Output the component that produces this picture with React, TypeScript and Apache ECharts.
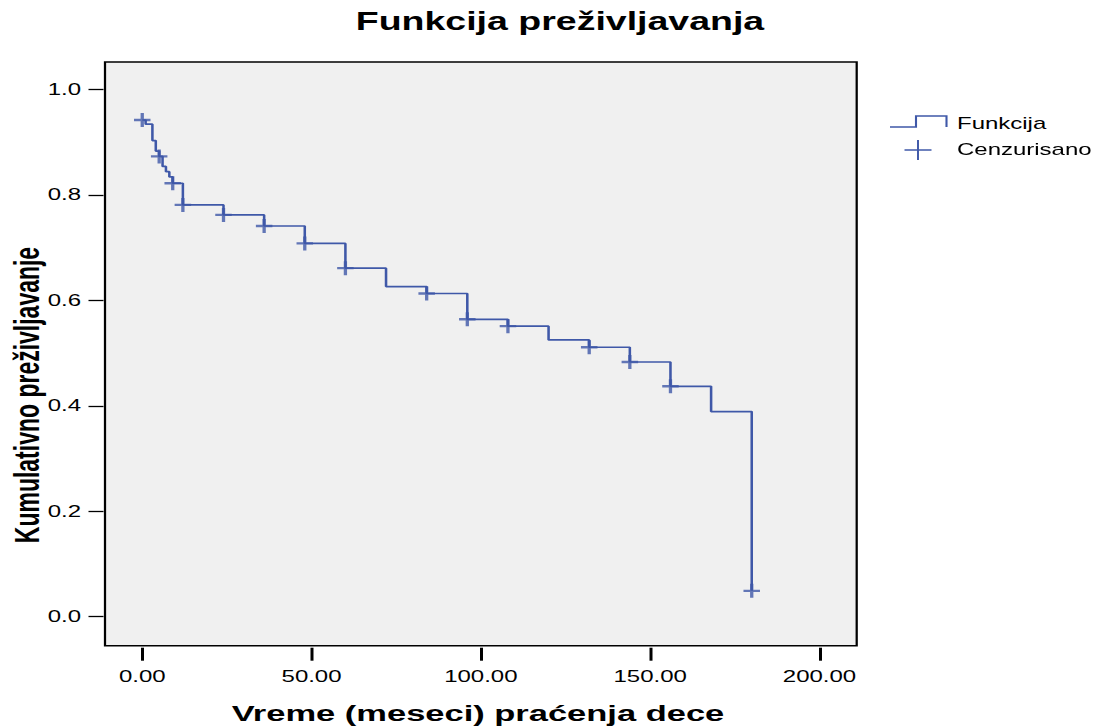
import React, { useEffect, useRef } from "react";
import * as echarts from "echarts";

// The reference picture is horizontally stretched; we draw in a narrower
// base space and stretch the whole SVG with CSS.
const STRETCH = 1.5;
const W = 1099;
const H = 727;
const BW = W / STRETCH;

const eventTimes = [0, 1, 3, 4, 5, 6, 7, 8, 9, 12, 24, 36, 48, 60, 72, 84, 96, 108, 120, 132, 144, 156, 168, 180];
const survival = [0.942, 0.934, 0.903, 0.883, 0.873, 0.854, 0.844, 0.834, 0.822, 0.781, 0.762, 0.741, 0.708, 0.661, 0.626, 0.613, 0.564, 0.551, 0.525, 0.511, 0.483, 0.437, 0.389, 0.049];
const censorTimes = [0, 5, 9, 12, 24, 36, 48, 60, 84, 96, 108, 132, 144, 156, 180];
const censorSurvival = [0.942, 0.873, 0.822, 0.781, 0.762, 0.741, 0.708, 0.661, 0.613, 0.564, 0.551, 0.511, 0.483, 0.437, 0.049];
const xTicks = [0, 50, 100, 150, 200];
const yTicks = [0, 0.2, 0.4, 0.6, 0.8, 1.0];
const titleText = "Funkcija preživljavanja";
const xName = "Vreme (meseci) praćenja dece";
const yName = "Kumulativno preživljavanje";
const legendNames = ["Funkcija", "Cenzurisano"];

const BLUE = "#3f58a8";
const FONT = "'Liberation Sans', Arial, Helvetica, sans-serif";
const bx = (x: number) => x / STRETCH;

export default function App() {
  const ref = useRef<HTMLDivElement>(null);
  useEffect(() => {
    document.body.style.margin = "0";
    const chart = echarts.init(ref.current!, null, { renderer: "svg", width: BW, height: H });
    const lineData = eventTimes.map((t, i) => [t, survival[i]]);
    const censorData = censorTimes.map((t, i) => [t, censorSurvival[i]]);
    chart.setOption({
      animation: false,
      backgroundColor: "#ffffff",
      grid: {
        left: bx(105),
        right: BW - bx(856.7),
        top: 62,
        bottom: H - 645.7,
        show: true,
        backgroundColor: "#f0f0f0",
        borderColor: "#000000",
        borderWidth: 1.5,
      },
      xAxis: {
        type: "value",
        min: -11,
        max: 211,
        offset: 2,
        axisLine: { show: false, onZero: false },
        splitLine: { show: false },
        axisTick: { show: true, inside: false, length: 13, lineStyle: { color: "#000", width: 2 }, customValues: xTicks },
        axisLabel: {
          customValues: xTicks,
          formatter: (v: number) => v.toFixed(2),
          color: "#000",
          fontSize: 16,
          fontFamily: FONT,
          margin: 21,
        },
      },
      yAxis: {
        type: "value",
        min: -0.055,
        max: 1.052,
        offset: 1,
        axisLine: { show: false, onZero: false },
        splitLine: { show: false },
        axisTick: { show: true, inside: false, length: 10, lineStyle: { color: "#000", width: 1.3 }, customValues: yTicks },
        axisLabel: {
          customValues: yTicks,
          formatter: (v: number) => v.toFixed(1),
          color: "#000",
          fontSize: 16,
          fontFamily: FONT,
          margin: 15,
        },
      },
      series: [
        {
          name: legendNames[0],
          type: "line",
          step: "end",
          data: lineData,
          showSymbol: false,
          symbol: "none",
          lineStyle: { color: BLUE, width: 1.7 },
          z: 3,
        },
        {
          name: legendNames[1],
          type: "scatter",
          data: censorData,
          symbol: "path://M4.4,0H6.6V14H4.4Z M0,5.8H11V8.2H0Z",
          symbolSize: [11, 14],
          itemStyle: { color: BLUE },
          z: 4,
        },
      ],
      graphic: [
        {
          type: "text",
          x: bx(560),
          y: 21,
          style: { text: titleText, fontSize: 25, fontWeight: "bold", fontFamily: FONT, fill: "#000", align: "center", verticalAlign: "middle" },
        },
        {
          type: "text",
          x: bx(478),
          y: 713,
          style: { text: xName, fontSize: 23, fontWeight: "bold", fontFamily: FONT, fill: "#000", align: "center", verticalAlign: "middle" },
        },
        {
          type: "text",
          x: bx(27),
          y: 395,
          rotation: Math.PI / 2,
          style: { text: yName, fontSize: 23, fontWeight: "bold", fontFamily: FONT, fill: "#000", align: "center", verticalAlign: "middle" },
        },
        {
          type: "polyline",
          shape: { points: [[bx(890), 127], [bx(916), 127], [bx(916), 116], [bx(946.5), 116], [bx(946.5), 127]] },
          style: { stroke: BLUE, lineWidth: 1.4, fill: "none" },
        },
        {
          type: "text",
          x: bx(957),
          y: 124,
          style: { text: legendNames[0], fontSize: 16, fontFamily: FONT, fill: "#000", align: "left", verticalAlign: "middle" },
        },
        {
          type: "line",
          shape: { x1: bx(904.5), y1: 150, x2: bx(931.5), y2: 150 },
          style: { stroke: BLUE, lineWidth: 1.5 },
        },
        {
          type: "line",
          shape: { x1: bx(918), y1: 140, x2: bx(918), y2: 160 },
          style: { stroke: BLUE, lineWidth: 1.3 },
        },
        {
          type: "text",
          x: bx(957),
          y: 150,
          style: { text: legendNames[1], fontSize: 16, fontFamily: FONT, fill: "#000", align: "left", verticalAlign: "middle" },
        },
      ],
    });
    return () => chart.dispose();
  }, []);
  return (
    <div style={{ position: "absolute", left: 0, top: 0, width: W, height: H, overflow: "hidden", background: "#fff" }}>
      <div ref={ref} style={{ width: BW, height: H, transform: `scaleX(${STRETCH})`, transformOrigin: "0 0" }} />
    </div>
  );
}
